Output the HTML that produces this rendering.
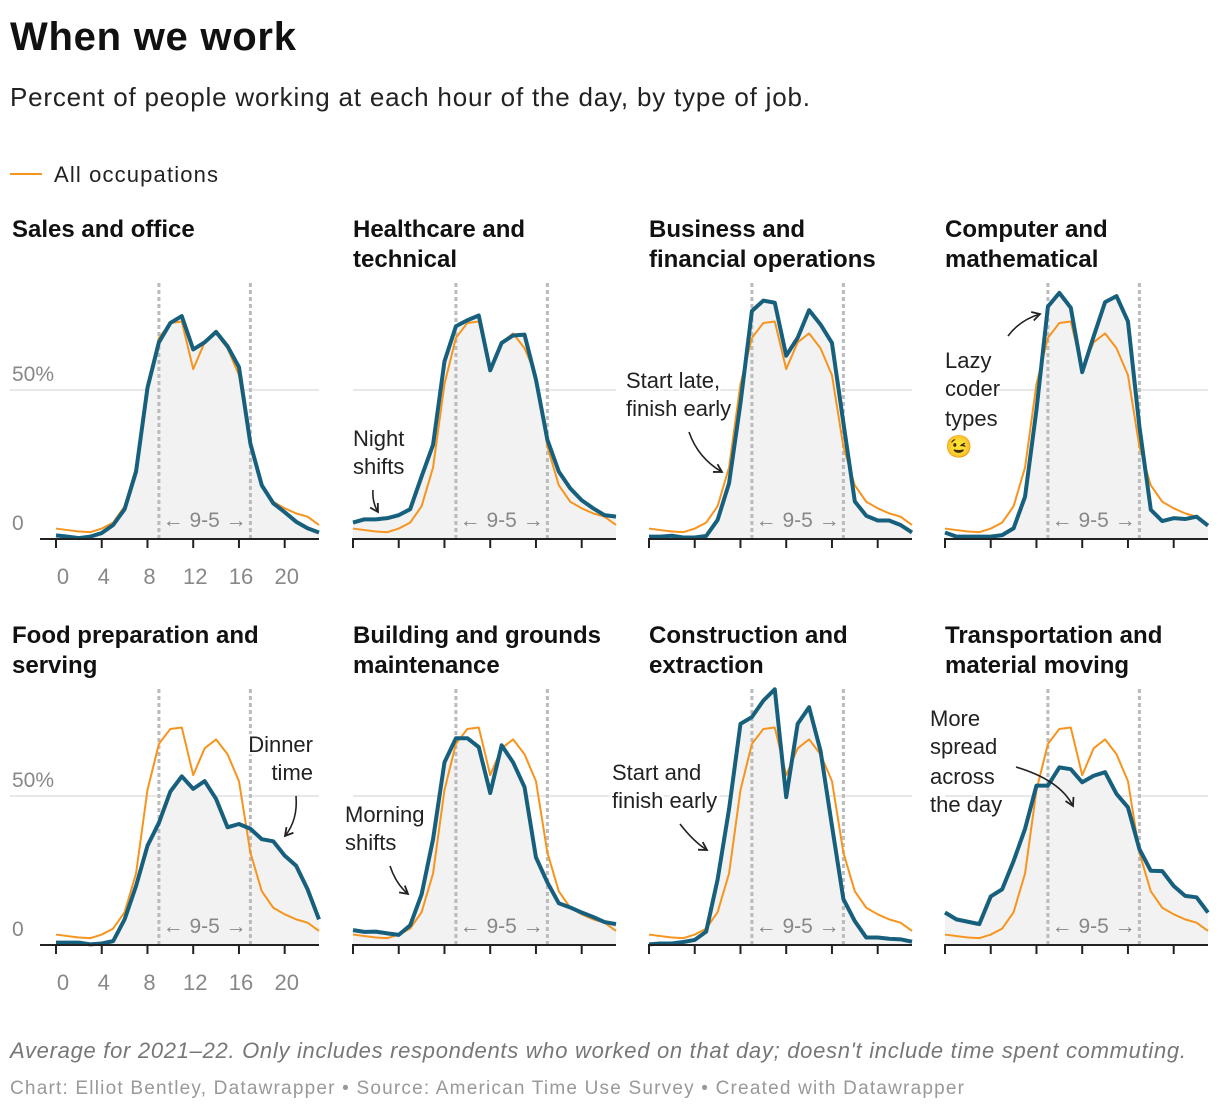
<!DOCTYPE html>
<html><head><meta charset="utf-8">
<style>
html,body{margin:0;padding:0;background:#fff;}
svg{display:block;font-family:"Liberation Sans",Arial,sans-serif;}
.pt{font-size:24px;font-weight:bold;fill:#111;}
.yl{font-size:21px;fill:#888;}
.xl{font-size:22px;fill:#888;}
.ann{font-size:22px;fill:#222;paint-order:stroke;stroke:#fff;stroke-width:5px;stroke-linejoin:round;}
.nf{font-size:21px;fill:#888;}
.arr{fill:none;stroke:#222;stroke-width:1.6;}
</style></head>
<body>
<svg id="chart" width="1220" height="1112" viewBox="0 0 1220 1112">
<defs><marker id="ah" viewBox="0 0 10 10" refX="8" refY="5" markerWidth="7" markerHeight="7" orient="auto"><path d="M1,1 L8,5 L1,9" fill="none" stroke="#222" stroke-width="1.6"/></marker></defs>
<text x="10" y="50" font-size="40" font-weight="bold" fill="#111" textLength="286">When we work</text>
<text x="10" y="106" font-size="26" fill="#222" textLength="800">Percent of people working at each hour of the day, by type of job.</text>
<line x1="10" y1="174" x2="42" y2="174" stroke="#f7941d" stroke-width="2"/>
<text x="54" y="182" font-size="22" fill="#222" textLength="164">All occupations</text>
<g id="panels"></g>
<g id="annots">
<text class="ann" x="353" y="446">Night</text>
<text class="ann" x="353" y="474">shifts</text>
<path class="arr" d="M373,490 Q372,502 378,512" marker-end="url(#ah)"/>
<text class="ann" x="626" y="388">Start late,</text>
<text class="ann" x="626" y="416">finish early</text>
<path class="arr" d="M689,432 Q698,458 722,472" marker-end="url(#ah)"/>
<text class="ann" x="945" y="368">Lazy</text>
<text class="ann" x="945" y="396">coder</text>
<text class="ann" x="945" y="426">types</text>
<text x="945" y="454" font-size="22">😉</text>
<path class="arr" d="M1008,336 Q1020,320 1040,314" marker-end="url(#ah)"/>
<text class="ann" x="313" y="752" text-anchor="end">Dinner</text>
<text class="ann" x="313" y="780" text-anchor="end">time</text>
<path class="arr" d="M296,796 Q298,820 285,836" marker-end="url(#ah)"/>
<text class="ann" x="345" y="822">Morning</text>
<text class="ann" x="345" y="850">shifts</text>
<path class="arr" d="M390,866 Q396,884 408,894" marker-end="url(#ah)"/>
<text class="ann" x="612" y="780">Start and</text>
<text class="ann" x="612" y="808">finish early</text>
<path class="arr" d="M680,824 Q694,842 707,850" marker-end="url(#ah)"/>
<text class="ann" x="930" y="726">More</text>
<text class="ann" x="930" y="754">spread</text>
<text class="ann" x="930" y="784">across</text>
<text class="ann" x="930" y="812">the day</text>
<path class="arr" d="M1016,767 Q1060,780 1073,806" marker-end="url(#ah)"/>
</g>
<text x="10" y="1058" font-size="22" font-style="italic" fill="#777" textLength="1176">Average for 2021–22. Only includes respondents who worked on that day; doesn't include time spent commuting.</text>
<text x="10" y="1094" font-size="19" fill="#999" textLength="954">Chart: Elliot Bentley, Datawrapper • Source: American Time Use Survey • Created with Datawrapper</text>
</svg>
<script>
const hours = [0,1,2,3,4,5,6,7,8,9,10,11,12,13,14,15,16,17,18,19,20,21,22,23];
const xTicks = [0,4,8,12,16,20];
const yTicks = [0,50];
const allOccupations = [3.5,3,2.5,2.3,3.5,5.5,11,24,52,67.5,72.5,73,57,66,69,64,55,31,18,12.5,10.3,8.6,7.5,4.7];
const panelTitles = [["Sales and office"],["Healthcare and","technical"],["Business and","financial operations"],["Computer and","mathematical"],["Food preparation and","serving"],["Building and grounds","maintenance"],["Construction and","extraction"],["Transportation and","material moving"]];
const salesOffice = [1.2,0.8,0.3,0.8,2,4.7,10,22.6,50.7,66,72.5,74.8,63.6,66,69.5,64.7,57.7,32,18,12,9,5.8,3.6,2.2];
const healthcare = [5.5,6.6,6.6,7,8,10,21,31.6,59.6,71.4,73.4,75,56.6,65.8,68.3,68.6,53.5,33.3,22.6,17,13,10.3,8,7.5];
const business = [0.8,0.8,1.1,0.5,0.5,1,6.4,18.7,45.6,76.5,80,79.3,61.5,67.5,76.8,72,65.8,39,12.6,7.8,6.2,6.2,4.7,2.2];
const computer = [2.2,0.8,0.8,0.8,0.8,1.3,3.6,14.2,43.4,78,82.6,77.6,56,68,79.5,81.5,73,37.8,9.8,6,7,6.7,7.5,4.5];
const food = [0.8,0.8,0.8,0.2,0.5,1.3,8.6,19.8,33.3,41,51.5,56.6,52.4,55,49,39.5,40.6,39,35.5,34.8,30,26.6,18.7,8.6];
const building = [5,4.4,4.5,3.9,3.4,6.6,17,35.5,61.3,69.4,69.4,66.4,51,67,61.3,53,29.4,21,14,12.6,10.9,9.4,7.7,7];
const construction = [0.2,0.5,0.5,1,1.7,4.5,22,45.6,74.2,76.5,82,85.8,49.6,74.2,79.8,65.2,40,15.4,8,2.5,2.5,2.1,1.9,1.1];
const transport = [10.9,8.6,7.8,7,16.3,18.7,28.2,39,53.5,53.5,59.6,59,54.6,56.8,58,50.7,46.2,32.2,24.9,24.8,19.8,16.5,16,10.9];
const seriesList = [salesOffice,healthcare,business,computer,food,building,construction,transport];
const workStart = 9, workEnd = 17;

const NS="http://www.w3.org/2000/svg";
const root=document.getElementById('panels');
const colX=[56,353,649,945], rowBase=[539,945], pw=263, pxPerPct=2.98;
function mk(tag,attrs,parent){const e=document.createElementNS(NS,tag);for(const k in attrs)e.setAttribute(k,attrs[k]);(parent||root).appendChild(e);return e;}
seriesList.forEach((vals,i)=>{
  const col=i%4,row=Math.floor(i/4);
  const x0=colX[col],base=rowBase[row];
  const xs=h=>x0+h*pw/23, ys=v=>base-v*pxPerPct;
  const g=mk('g',{});
  
  
  const titleY=row===0?237:643;
  panelTitles[i].forEach((t,j)=>{
    const tt=mk('text',{x:(col===0?12:x0),y:titleY+j*30,class:'pt'},g);tt.textContent=t;
    
    
  });
  yTicks.forEach(v=>{
    if(v===0)return;
    const gl=mk('line',{x1:col===0?10:x0,x2:x0+pw,y1:ys(v),y2:ys(v),stroke:'#e0e0e0','stroke-width':1.5},g);
    
    
  });
  if(col===0){
    yTicks.forEach(v=>{
      const t=mk('text',{x:12,y:ys(v)-9,class:'yl'},g);t.textContent=v===0?'0':v+'%';
      
      
    });
  }
  let d='M'+xs(0)+','+base;
  hours.forEach(h=>{d+=' L'+xs(h)+','+ys(vals[h]);});
  d+=' L'+xs(23)+','+base+' Z';
  const area=mk('path',{d:d,fill:'#f2f2f2'},g);
  
  
  [workStart,workEnd].forEach(h=>{
    const dl=mk('line',{x1:xs(h),x2:xs(h),y1:base-256,y2:base,stroke:'#bbb','stroke-width':3,'stroke-dasharray':'4 3'},g);
    
    
  });
  const nf=mk('text',{x:(xs(workStart)+xs(workEnd))/2,y:base-12,class:'nf','text-anchor':'middle'},g);
  nf.textContent='← 9-5 →';
  
  
  const op=mk('polyline',{points:hours.map(h=>xs(h)+','+ys(allOccupations[h])).join(' '),fill:'none',stroke:'#f7941d','stroke-width':2,'stroke-linejoin':'round'},g);
  
  
  const bp=mk('polyline',{points:hours.map(h=>xs(h)+','+ys(vals[h])).join(' '),fill:'none',stroke:'#17607d','stroke-width':4,'stroke-linejoin':'round'},g);
  
  
  const ax=mk('line',{x1:col===0?40:x0-1,x2:x0+pw,y1:base,y2:base,stroke:'#222','stroke-width':2},g);
  
  
  xTicks.forEach(h=>{
    const tk=mk('line',{x1:xs(h),x2:xs(h),y1:base,y2:base+9,stroke:'#222','stroke-width':2},g);
    
    
    if(col===0){
      const tl=mk('text',{x:xs(h)+(h===0?7:2),y:base+45,class:'xl','text-anchor':'middle'},g);tl.textContent=h;
      
      
    }
  });
});
</script>
</body></html>
